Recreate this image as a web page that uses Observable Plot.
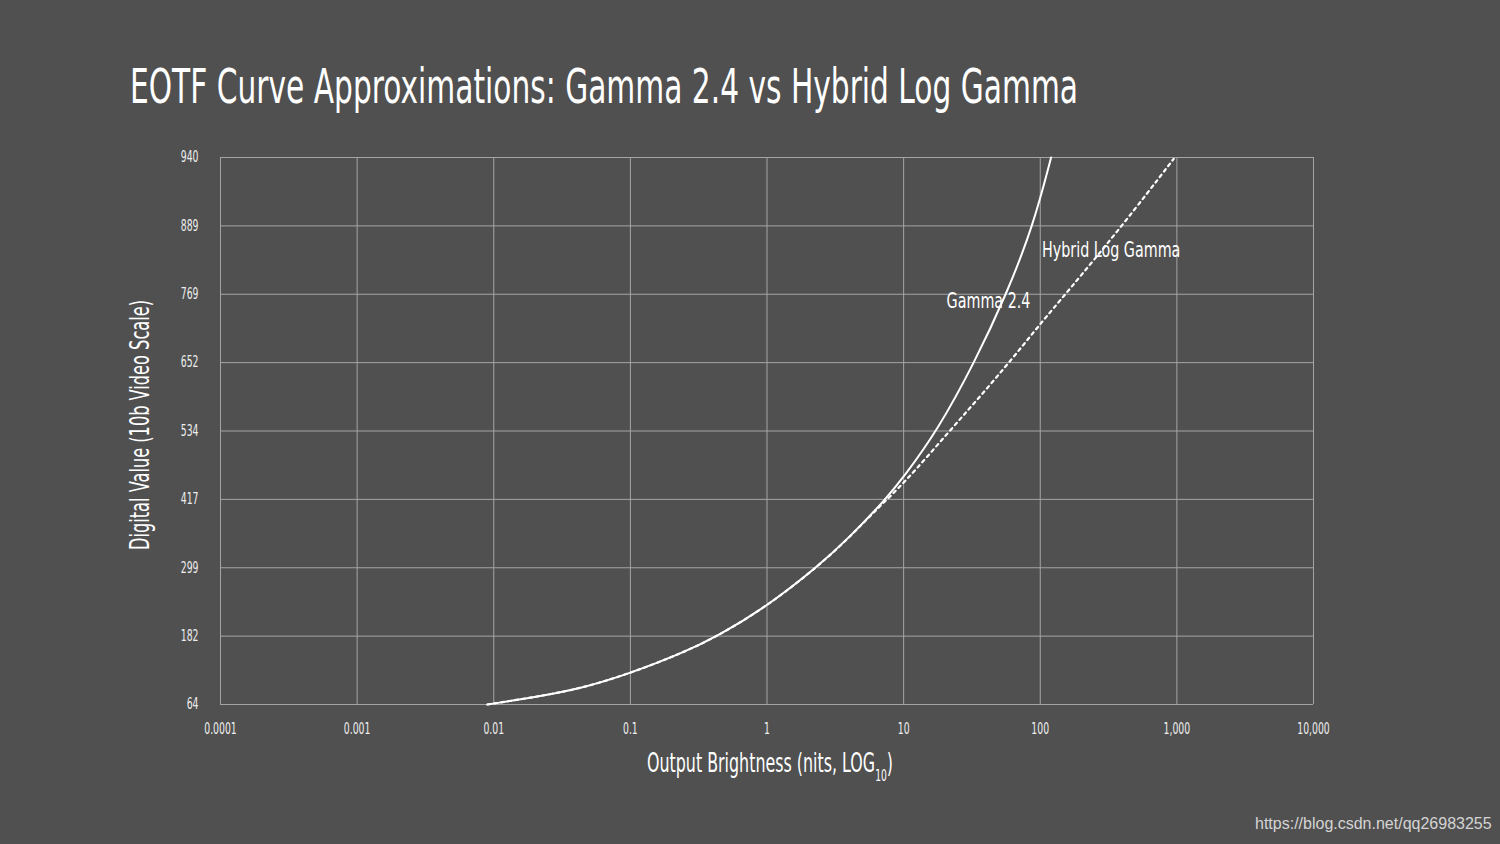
<!DOCTYPE html>
<html><head><meta charset="utf-8">
<script src="https://cdn.jsdelivr.net/npm/d3@7"></script>
<script src="https://cdn.jsdelivr.net/npm/@observablehq/plot@0.6"></script>
<style>
html,body{margin:0;padding:0;background:#505050;}
#wrap{position:relative;width:1500px;height:844px;overflow:hidden;color:#fff;
  font-family:"DejaVu Sans","Noto Sans",sans-serif;}
.lbl{position:absolute;white-space:nowrap;transform-origin:0 0;line-height:1;}
#title{left:130px;top:62px;font-size:48px;}
#xlabel{left:647px;top:750px;font-size:26px;}
#xlabel sub{font-size:15px;vertical-align:-9px;line-height:0;}
#ylabel{left:0;top:0;font-size:26px;}
#wm{left:1255px;top:816px;font-family:"Liberation Sans",Arial,sans-serif;font-size:16px;color:#d4d4d4;}
#chart{position:absolute;left:0;top:0;}
</style></head>
<body><div id="wrap">
<div id="chart"></div>
<div class="lbl" id="title">EOTF Curve Approximations: Gamma 2.4 vs Hybrid Log Gamma</div>
<div class="lbl" id="xlabel">Output Brightness (nits, LOG<sub>10</sub>)</div>
<div class="lbl" id="ylabel">Digital Value (10b Video Scale)</div>
<div class="lbl" id="wm">https://blog.csdn.net/qq26983255</div>
</div>
<script>
// tick values
const xTicks = [0.0001, 0.001, 0.01, 0.1, 1, 10, 100, 1000, 10000];
const xTickLabels = ["0.0001", "0.001", "0.01", "0.1", "1", "10", "100", "1,000", "10,000"];
const yTicks = [64, 182, 299, 417, 534, 652, 769, 889, 940];

// Gamma 2.4 curve (nits, digital value)
const gammaNits = [0.009, 0.0186, 0.0432, 0.1, 0.233, 0.437, 1.0, 2.33, 4.08, 7.37, 10, 17.6, 33.0, 56.6, 88.7, 120];
const gammaCode = [64,    75.6,   91.1,   118, 151.5, 182,   233, 300,  353,  417,  455, 534, 652,  769,  889,  940];

// Hybrid Log Gamma curve (nits, digital value)
const hlgNits = [0.009, 0.0186, 0.0432, 0.1, 0.233, 0.437, 1.0, 2.33, 4.08, 6.41,  10,    21.7, 39.7,  71.6,  100,   153, 398, 948];
const hlgCode = [64,    75.6,   91.1,   118, 151.5, 182,   233, 300,  353,  401.3, 443.7, 534,  603.9, 675.7, 718.4, 769, 889, 939];

// curve labels
const labelText = ["Gamma 2.4", "Hybrid Log Gamma"];
const labelNits = [41.8, 103];
const labelCode = [758, 846];
const labelAnchor = ["middle", "start"];

const toIndex = d3.scaleLinear().domain(yTicks).range(d3.range(yTicks.length));
const gamma = gammaNits.map((x, i) => ({x, y: gammaCode[i]}));
const hlg = hlgNits.map((x, i) => ({x, y: hlgCode[i]}));
const labels = labelText.map((t, i) => ({t, x: labelNits[i], y: labelCode[i], a: labelAnchor[i]}));

const chart = Plot.plot({
  width: 1500, height: 844,
  marginLeft: 220, marginRight: 187, marginTop: 157, marginBottom: 140,
  style: {background: "transparent", color: "#eeeeee", fontSize: "15px",
    fontFamily: '"DejaVu Sans","Noto Sans",sans-serif'},
  x: {type: "log", domain: [1e-4, 1e4], ticks: xTicks, tickFormat: d => xTickLabels[xTicks.indexOf(d)], tickSize: 0, tickPadding: 19, label: null},
  y: {type: "linear", domain: [0, yTicks.length - 1], ticks: d3.range(yTicks.length), tickFormat: i => yTicks[i], tickSize: 0, tickPadding: 22, label: null},
  marks: [
    Plot.ruleX(xTicks, {stroke: "#a4a4a4", strokeWidth: 1}),
    Plot.ruleY(d3.range(yTicks.length), {stroke: "#a4a4a4", strokeWidth: 1}),
    Plot.line(hlg, {x: "x", y: d => toIndex(d.y), stroke: "#ffffff", strokeWidth: 2.2, strokeDasharray: "3,4", curve: "basis"}),
    Plot.line(gamma, {x: "x", y: d => toIndex(d.y), stroke: "#ffffff", strokeWidth: 2, curve: "basis"}),
    Plot.text(labels.filter(d => d.a === "middle"), {x: "x", y: d => toIndex(d.y), text: "t", fill: "#ffffff", fontSize: 22, textAnchor: "middle"}),
    Plot.text(labels.filter(d => d.a === "start"), {x: "x", y: d => toIndex(d.y), text: "t", fill: "#ffffff", fontSize: 22, textAnchor: "start"})
  ]
});
document.getElementById("chart").appendChild(chart);

// condense SVG text to mimic the narrow typeface of the original
d3.select(chart).selectAll("text").each(function() {
  const s = this.textContent;
  const f = labelText.includes(s) ? 0.65 : 0.62;
  const len = this.getComputedTextLength();
  if (len > 0) {
    this.setAttribute("textLength", len * f);
    this.setAttribute("lengthAdjust", "spacingAndGlyphs");
  }
});

// condense HTML labels to target widths
function fit(id, target) {
  const el = document.getElementById(id);
  const w = el.getBoundingClientRect().width;
  return target / w;
}
const kt = fit("title", 948);
document.getElementById("title").style.transform = `scaleX(${kt})`;
const kx = fit("xlabel", 246);
document.getElementById("xlabel").style.transform = `scaleX(${kx})`;
const ky = fit("ylabel", 250);
document.getElementById("ylabel").style.transform = `translate(127px,550px) rotate(-90deg) scaleX(${ky})`;
</script>
</body></html>
